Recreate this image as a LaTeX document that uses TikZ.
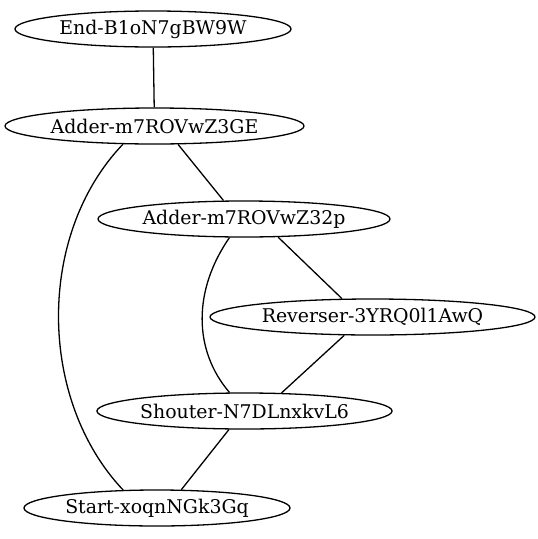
\documentclass[tikz,border=0pt]{standalone}
\usepackage{fontspec}
\setmainfont{DejaVu Serif}
\usetikzlibrary{shapes.geometric}
\begin{document}
\begin{tikzpicture}[x=1pt,y=-1pt,
  nd/.style={ellipse,draw,line width=1.3pt,inner sep=0pt,minimum height=36pt,font=\fontsize{18.9}{22}\selectfont},
  ed/.style={line width=1.3pt}]
\useasboundingbox (0,0) rectangle (538,539);
\node[nd,minimum width=276pt] (end) at (153,29) {End-B1oN7gBW9W};
\node[nd,minimum width=299pt] (a3ge) at (154.5,126) {Adder-m7ROVwZ3GE};
\node[nd,minimum width=292pt] (a32p) at (244,219) {Adder-m7ROVwZ32p};
\node[nd,minimum width=325pt] (rev) at (372.5,317) {Reverser-3YRQ0l1AwQ};
\node[nd,minimum width=289pt] (sho) at (244.5,411) {Shouter-N7DLnxkvL6};
\node[nd,minimum width=266pt] (start) at (157,508) {Start-xoqnNGk3Gq};
\draw[ed] (end) -- (a3ge);
\draw[ed] (a3ge.-38.5) -- (a32p.138.3);
\draw[ed] (a3ge.-150) .. controls (36,235) and (38,400) .. (start.152);
\draw[ed] (a32p.-28) -- (rev.149);
\draw[ed] (a32p.-128) .. controls (193,290) and (193,350) .. (sho.129);
\draw[ed] (rev.-147.2) -- (sho.26.2);
\draw[ed] (sho.-130.9) -- (start.37.6);
\end{tikzpicture}
\end{document}
